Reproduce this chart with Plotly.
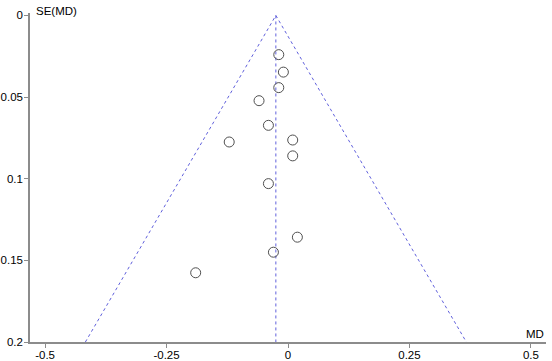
import plotly.graph_objects as go

# Study estimates (mean difference) and their standard errors
md_values = [-0.019, -0.0095, -0.019, -0.0596, -0.0403, -0.121, 0.0097, 0.0097, -0.0403, 0.0193, -0.030, -0.190]
se_values = [0.024, 0.0347, 0.0442, 0.0522, 0.0673, 0.0775, 0.0763, 0.086, 0.103, 0.1358, 0.145, 0.1576]

pooled_md = -0.025
se_max = 0.2
z = 1.96

x_tick_vals = [-0.5, -0.25, 0, 0.25, 0.5]
x_tick_text = ["-0.5", "-0.25", "0", "0.25", "0.5"]
y_tick_vals = [0, 0.05, 0.1, 0.15, 0.2]
y_tick_text = ["0", "0.05", "0.1", "0.15", "0.2"]

line_color = "#6060dc"
axis_color = "#8c8c8c"
font_family = "Liberation Sans, Arial, sans-serif"

fig = go.Figure()

# pseudo 95% confidence limits (funnel)
fig.add_trace(go.Scatter(
    x=[pooled_md - z * se_max, pooled_md, pooled_md + z * se_max],
    y=[se_max, 0, se_max],
    mode="lines", line=dict(color=line_color, width=1, dash="dot"),
    hoverinfo="skip", showlegend=False))
# pooled estimate vertical line
fig.add_trace(go.Scatter(
    x=[pooled_md, pooled_md], y=[0, se_max],
    mode="lines", line=dict(color=line_color, width=1, dash="dot"),
    hoverinfo="skip", showlegend=False))
# studies
fig.add_trace(go.Scatter(
    x=md_values, y=se_values, mode="markers",
    marker=dict(symbol="circle-open", size=10, color="#505050", line=dict(width=1)),
    showlegend=False))

fig.update_layout(
    width=552, height=361,
    margin=dict(l=30, r=6, t=13, b=19),
    paper_bgcolor="white", plot_bgcolor="white",
    font=dict(family=font_family, size=11.5, color="black"),
    xaxis=dict(range=[-0.531, 0.531], tickvals=x_tick_vals, ticktext=x_tick_text, automargin=False,
               showgrid=False, zeroline=False, showline=True, linecolor=axis_color, linewidth=1.5,
               ticks="outside", ticklen=4, tickcolor=axis_color, tickwidth=1, ticklabelstandoff=-3),
    yaxis=dict(range=[0.2, -0.0015], tickvals=y_tick_vals, ticktext=y_tick_text, automargin=False,
               showgrid=False, zeroline=False, showline=True, linecolor=axis_color, linewidth=1.5,
               ticks="outside", ticklen=4, tickcolor=axis_color, tickwidth=1, ticklabelstandoff=-1),
    annotations=[
        dict(text="SE(MD)", xref="paper", yref="paper", x=0, y=1, xanchor="left", yanchor="bottom",
             xshift=4, yshift=-6, showarrow=False, font=dict(size=11.5)),
        dict(text="MD", xref="paper", yref="paper", x=1, y=0, xanchor="right", yanchor="bottom",
             showarrow=False, font=dict(size=11.5)),
    ],
)

fig.write_html("out.html", config={"displayModeBar": False},
               post_script="document.body.style.margin='0';document.body.style.overflow='hidden';")
